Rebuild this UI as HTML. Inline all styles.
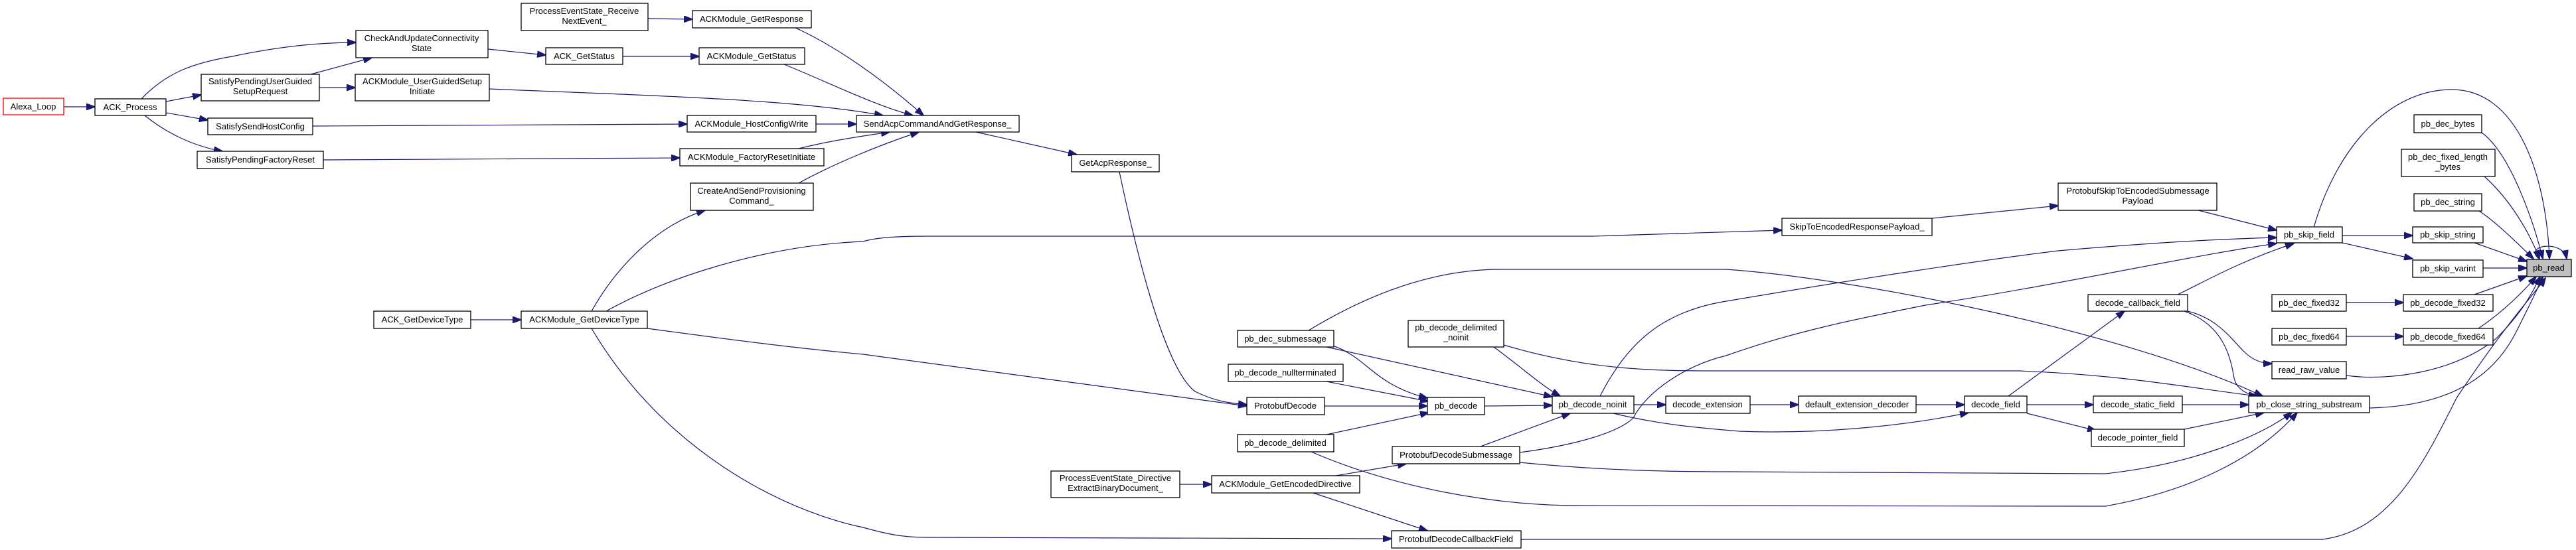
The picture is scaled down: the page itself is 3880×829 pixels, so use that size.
<!DOCTYPE html>
<html><head><meta charset="utf-8"><style>
html,body{margin:0;padding:0;background:#fff;}
svg{display:block;}
text{font-family:"Liberation Sans",Arial,sans-serif;font-size:13px;fill:#000;text-anchor:middle;}
.n{fill:#fff;stroke:#000;stroke-width:1.3;}
.e{fill:none;stroke:#191970;stroke-width:1.2;}
</style></head><body>
<svg width="3880" height="829" viewBox="0 0 3880 829" xmlns="http://www.w3.org/2000/svg">
<defs><marker id="a" markerWidth="14" markerHeight="10" refX="13" refY="5" orient="auto" markerUnits="userSpaceOnUse"><path d="M0,0 L14,5 L0,10z" fill="#191970" stroke="#191970"/></marker></defs>
<g class="edges" marker-end="url(#a)">
<path class="e" marker-end="url(#a)" d="M96,161 L143,161"/>
<path class="e" marker-end="url(#a)" d="M213,149 C250,110 290,95 350,85 C420,70 480,64 536,64"/>
<path class="e" marker-end="url(#a)" d="M250,153 L303,143"/>
<path class="e" marker-end="url(#a)" d="M250,170 L313,181"/>
<path class="e" marker-end="url(#a)" d="M218,174 C250,200 290,220 335,228"/>
<path class="e" marker-end="url(#a)" d="M468,112 L560,87"/>
<path class="e" marker-end="url(#a)" d="M481,132 L535,132"/>
<path class="e" marker-end="url(#a)" d="M471,190 L1035,187"/>
<path class="e" marker-end="url(#a)" d="M487,241 L1024,238"/>
<path class="e" marker-end="url(#a)" d="M735,74 L822,83"/>
<path class="e" marker-end="url(#a)" d="M938,85 L1053,85"/>
<path class="e" marker-end="url(#a)" d="M976,28 L1043,29"/>
<path class="e" marker-end="url(#a)" d="M1198,42 C1260,70 1330,120 1391,174"/>
<path class="e" marker-end="url(#a)" d="M1181,97 C1250,125 1320,160 1375,174"/>
<path class="e" marker-end="url(#a)" d="M737,134 C1000,145 1200,150 1330,174"/>
<path class="e" marker-end="url(#a)" d="M1229,187 L1290,187"/>
<path class="e" marker-end="url(#a)" d="M1203,224 C1250,212 1300,205 1340,199"/>
<path class="e" marker-end="url(#a)" d="M1203,276 C1250,250 1320,220 1384,199"/>
<path class="e" marker-end="url(#a)" d="M1470,199 L1622,233"/>
<path class="e" marker-end="url(#a)" d="M891,469 C930,400 990,340 1062,317"/>
<path class="e" marker-end="url(#a)" d="M913,469 C1000,420 1150,370 1300,364 C1320,358 1350,356 1400,356 L2400,356 C2500,352 2600,350 2684,347"/>
<path class="e" marker-end="url(#a)" d="M975,495 C1100,512 1200,525 1300,534 L1878,612"/>
<path class="e" marker-end="url(#a)" d="M891,495 C1000,680 1180,770 1300,795 C1340,806 1360,810 1400,810 L2096,812"/>
<path class="e" marker-end="url(#a)" d="M709,482 L785,482"/>
<path class="e" marker-end="url(#a)" d="M1686,259 C1720,420 1760,560 1800,590 C1830,605 1850,607 1878,610"/>
<path class="e" marker-end="url(#a)" d="M1995,612 L2150,612"/>
<path class="e" marker-end="url(#a)" d="M2010,522 C2060,540 2070,580 2150,600"/>
<path class="e" marker-end="url(#a)" d="M1998,523 L2338,598"/>
<path class="e" marker-end="url(#a)" d="M1971,498 C2050,450 2150,406 2260,406 L2600,406 C2800,420 3200,500 3408,597"/>
<path class="e" marker-end="url(#a)" d="M1998,575 L2152,605"/>
<path class="e" marker-end="url(#a)" d="M1998,655 L2152,622"/>
<path class="e" marker-end="url(#a)" d="M1975,681 C2100,735 2250,762 2378,762 L3171,763 C3300,740 3400,690 3460,622"/>
<path class="e" marker-end="url(#a)" d="M2250,523 C2300,560 2320,580 2350,597"/>
<path class="e" marker-end="url(#a)" d="M2265,520 C2400,560 2500,559 2600,559 L3040,559 C3200,565 3300,585 3400,597"/>
<path class="e" marker-end="url(#a)" d="M2236,612 L2338,611"/>
<path class="e" marker-end="url(#a)" d="M2410,597 C2450,520 2500,470 2600,454 C2800,420 3000,390 3100,378 C3250,365 3350,360 3429,358"/>
<path class="e" marker-end="url(#a)" d="M2461,610 L2509,610"/>
<path class="e" marker-end="url(#a)" d="M2430,623 C2500,640 2560,645 2620,650 C2750,655 2880,640 2965,622"/>
<path class="e" marker-end="url(#a)" d="M2230,673 L2365,623"/>
<path class="e" marker-end="url(#a)" d="M2289,682 C2380,670 2440,650 2460,630 C2480,590 2540,550 2600,536 C2700,500 2800,480 2900,460 C3100,430 3300,385 3429,367"/>
<path class="e" marker-end="url(#a)" d="M2289,697 C2400,708 2500,711 2600,711 L3171,714 C3300,700 3400,660 3452,622"/>
<path class="e" marker-end="url(#a)" d="M1777,730 L1825,730"/>
<path class="e" marker-end="url(#a)" d="M2012,717 L2118,699"/>
<path class="e" marker-end="url(#a)" d="M1978,743 L2150,800"/>
<path class="e" marker-end="url(#a)" d="M2291,813 L3498,813 C3600,800 3650,700 3700,600 C3780,480 3820,440 3834,419"/>
<path class="e" marker-end="url(#a)" d="M2636,610 L2709,610"/>
<path class="e" marker-end="url(#a)" d="M2886,610 L2959,610"/>
<path class="e" marker-end="url(#a)" d="M3025,597 L3200,469"/>
<path class="e" marker-end="url(#a)" d="M3053,610 L3153,610"/>
<path class="e" marker-end="url(#a)" d="M3053,623 L3157,649"/>
<path class="e" marker-end="url(#a)" d="M3287,610 L3387,610"/>
<path class="e" marker-end="url(#a)" d="M3290,647 L3410,622"/>
<path class="e" marker-end="url(#a)" d="M3280,444 C3320,425 3370,395 3455,367"/>
<path class="e" marker-end="url(#a)" d="M3295,469 C3340,480 3360,510 3380,530 C3395,545 3410,548 3422,548"/>
<path class="e" marker-end="url(#a)" d="M3290,469 C3350,490 3360,540 3365,570 C3370,590 3390,597 3410,598"/>
<path class="e" marker-end="url(#a)" d="M3485,343 C3520,220 3600,135 3693,135 C3790,135 3835,260 3840,390"/>
<path class="e" marker-end="url(#a)" d="M3528,355 L3634,355"/>
<path class="e" marker-end="url(#a)" d="M3528,366 L3634,390"/>
<path class="e" marker-end="url(#a)" d="M3727,366 L3806,394"/>
<path class="e" marker-end="url(#a)" d="M3740,404 L3806,404"/>
<path class="e" marker-end="url(#a)" d="M3738,200 C3780,230 3815,330 3830,390"/>
<path class="e" marker-end="url(#a)" d="M3742,266 C3780,300 3810,350 3825,390"/>
<path class="e" marker-end="url(#a)" d="M3734,318 C3760,335 3790,365 3816,390"/>
<path class="e" marker-end="url(#a)" d="M3727,444 L3806,416"/>
<path class="e" marker-end="url(#a)" d="M3733,495 C3770,470 3800,440 3820,417"/>
<path class="e" marker-end="url(#a)" d="M3534,566 C3600,575 3700,560 3760,510 C3800,470 3815,440 3826,417"/>
<path class="e" marker-end="url(#a)" d="M3569,615 C3700,612 3760,560 3790,500 C3810,460 3820,440 3830,417"/>
<path class="e" marker-end="url(#a)" d="M3824,390 C3800,370 3860,360 3866,390"/>
<path class="e" marker-end="url(#a)" d="M3534,456 L3620,456"/>
<path class="e" marker-end="url(#a)" d="M3534,507 L3620,507"/>
<path class="e" marker-end="url(#a)" d="M3311,317 L3429,347"/>
<path class="e" marker-end="url(#a)" d="M2910,329 L3100,310"/>
</g>
<g>
<rect x="5" y="148" width="91" height="25" fill="#fff" stroke="#ff0000" stroke-width="1.3"/><text x="50" y="165">Alexa_Loop</text>
<rect class="n" x="143" y="149" width="107" height="25"/><text x="196" y="166">ACK_Process</text>
<rect class="n" x="536" y="46" width="199" height="41"/><text x="635" y="62">CheckAndUpdateConnectivity</text><text x="635" y="77">State</text>
<rect class="n" x="303" y="112" width="178" height="40"/><text x="392" y="127">SatisfyPendingUserGuided</text><text x="392" y="142">SetupRequest</text>
<rect class="n" x="535" y="112" width="202" height="40"/><text x="636" y="127">ACKModule_UserGuidedSetup</text><text x="636" y="142">Initiate</text>
<rect class="n" x="313" y="178" width="158" height="25"/><text x="392" y="195">SatisfySendHostConfig</text>
<rect class="n" x="297" y="228" width="190" height="26"/><text x="392" y="245">SatisfyPendingFactoryReset</text>
<rect class="n" x="785" y="5" width="191" height="41"/><text x="880" y="21">ProcessEventState_Receive</text><text x="880" y="36">NextEvent_</text>
<rect class="n" x="1043" y="16" width="179" height="26"/><text x="1132" y="33">ACKModule_GetResponse</text>
<rect class="n" x="822" y="72" width="116" height="25"/><text x="880" y="89">ACK_GetStatus</text>
<rect class="n" x="1053" y="72" width="159" height="25"/><text x="1132" y="89">ACKModule_GetStatus</text>
<rect class="n" x="1035" y="174" width="194" height="25"/><text x="1132" y="191">ACKModule_HostConfigWrite</text>
<rect class="n" x="1024" y="224" width="217" height="26"/><text x="1132" y="241">ACKModule_FactoryResetInitiate</text>
<rect class="n" x="1040" y="276" width="185" height="41"/><text x="1132" y="292">CreateAndSendProvisioning</text><text x="1132" y="307">Command_</text>
<rect class="n" x="563" y="469" width="146" height="26"/><text x="636" y="486">ACK_GetDeviceType</text>
<rect class="n" x="785" y="469" width="190" height="26"/><text x="880" y="486">ACKModule_GetDeviceType</text>
<rect class="n" x="1290" y="174" width="245" height="25"/><text x="1412" y="191">SendAcpCommandAndGetResponse_</text>
<rect class="n" x="1614" y="233" width="132" height="26"/><text x="1680" y="250">GetAcpResponse_</text>
<rect class="n" x="1864" y="498" width="145" height="25"/><text x="1936" y="515">pb_dec_submessage</text>
<rect class="n" x="2121" y="483" width="144" height="40"/><text x="2193" y="498">pb_decode_delimited</text><text x="2193" y="513">_noinit</text>
<rect class="n" x="1850" y="549" width="173" height="26"/><text x="1936" y="566">pb_decode_nullterminated</text>
<rect class="n" x="1878" y="599" width="117" height="26"/><text x="1936" y="616">ProtobufDecode</text>
<rect class="n" x="2150" y="599" width="86" height="26"/><text x="2193" y="616">pb_decode</text>
<rect class="n" x="2338" y="597" width="123" height="26"/><text x="2399" y="614">pb_decode_noinit</text>
<rect class="n" x="2509" y="597" width="127" height="26"/><text x="2572" y="614">decode_extension</text>
<rect class="n" x="1864" y="655" width="145" height="26"/><text x="1936" y="672">pb_decode_delimited</text>
<rect class="n" x="2097" y="673" width="192" height="26"/><text x="2193" y="690">ProtobufDecodeSubmessage</text>
<rect class="n" x="1583" y="710" width="194" height="40"/><text x="1680" y="725">ProcessEventState_Directive</text><text x="1680" y="740">ExtractBinaryDocument_</text>
<rect class="n" x="1825" y="717" width="223" height="26"/><text x="1936" y="734">ACKModule_GetEncodedDirective</text>
<rect class="n" x="2096" y="800" width="195" height="26"/><text x="2193" y="817">ProtobufDecodeCallbackField</text>
<rect class="n" x="2684" y="329" width="226" height="26"/><text x="2797" y="346">SkipToEncodedResponsePayload_</text>
<rect class="n" x="3100" y="276" width="239" height="41"/><text x="3220" y="292">ProtobufSkipToEncodedSubmessage</text><text x="3220" y="307">Payload</text>
<rect class="n" x="3429" y="342" width="99" height="24"/><text x="3478" y="358">pb_skip_field</text>
<rect class="n" x="3636" y="173" width="102" height="27"/><text x="3687" y="191">pb_dec_bytes</text>
<rect class="n" x="3617" y="225" width="141" height="41"/><text x="3687" y="241">pb_dec_fixed_length</text><text x="3687" y="256">_bytes</text>
<rect class="n" x="3636" y="292" width="102" height="26"/><text x="3687" y="309">pb_dec_string</text>
<rect class="n" x="3634" y="342" width="106" height="24"/><text x="3687" y="358">pb_skip_string</text>
<rect class="n" x="3634" y="392" width="106" height="26"/><text x="3687" y="409">pb_skip_varint</text>
<rect x="3806" y="391" width="67" height="26" fill="#bfbfbf" stroke="#000" stroke-width="1.3"/><text x="3839" y="408">pb_read</text>
<rect class="n" x="3145" y="444" width="150" height="25"/><text x="3220" y="461">decode_callback_field</text>
<rect class="n" x="3422" y="444" width="112" height="25"/><text x="3478" y="461">pb_dec_fixed32</text>
<rect class="n" x="3620" y="444" width="135" height="25"/><text x="3687" y="461">pb_decode_fixed32</text>
<rect class="n" x="3422" y="495" width="112" height="25"/><text x="3478" y="512">pb_dec_fixed64</text>
<rect class="n" x="3620" y="495" width="135" height="25"/><text x="3687" y="512">pb_decode_fixed64</text>
<rect class="n" x="3422" y="545" width="112" height="26"/><text x="3478" y="562">read_raw_value</text>
<rect class="n" x="2709" y="597" width="177" height="25"/><text x="2797" y="614">default_extension_decoder</text>
<rect class="n" x="2959" y="597" width="94" height="25"/><text x="3006" y="614">decode_field</text>
<rect class="n" x="3153" y="597" width="134" height="25"/><text x="3220" y="614">decode_static_field</text>
<rect class="n" x="3387" y="597" width="182" height="25"/><text x="3478" y="614">pb_close_string_substream</text>
<rect class="n" x="3150" y="647" width="140" height="26"/><text x="3220" y="664">decode_pointer_field</text>
</g>
</svg>
</body></html>
